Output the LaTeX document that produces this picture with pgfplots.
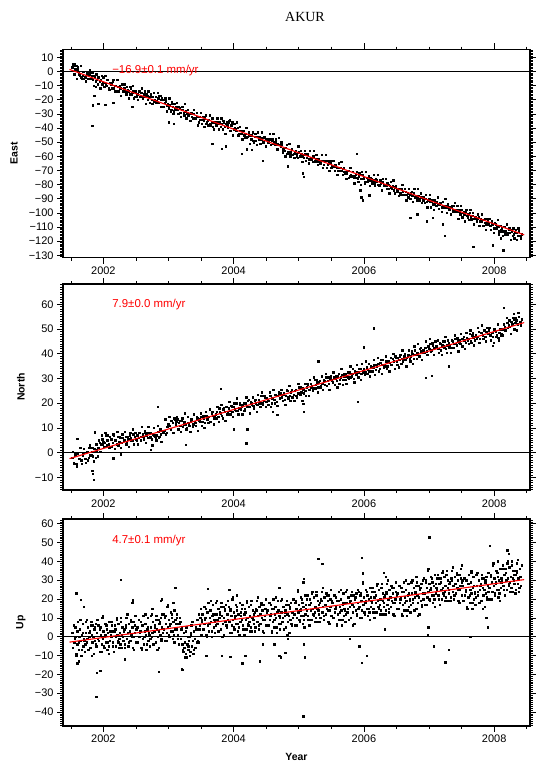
\documentclass[border=0pt]{standalone}
\usepackage{fontspec}
\setmainfont{Liberation Sans}
\newfontfamily\titlefont{Liberation Serif}
\usepackage{pgfplots}
\pgfplotsset{compat=1.18}

\pgfplotsset{
  gmt/.style={
    scale only axis, width=467bp,
    xmin=2001.38, xmax=2008.55,
    axis line style={line width=1.8bp},
    tick align=outside,
    xtick={2002,2004,2006,2008},
    xticklabels={2002,2004,2006,2008},
    minor xtick={2001.5,2002,...,2008.5},
    major tick length=6bp, minor tick length=3bp,
    every tick/.style={black, line width=0.6bp},
    tick label style={font=\fontsize{11}{11}\selectfont},
    label style={font=\bfseries\fontsize{10.5}{10.5}\selectfont},
    clip marker paths=true,
  },
  pts/.style={only marks, mark=square*, mark size=0.7pt, black},
  fit/.style={red, line width=1.1bp},
  zero/.style={black, line width=0.6pt},
}
\tikzset{rate/.style={anchor=west, text=red, font=\fontsize{11.5}{11.5}\selectfont}}

\begin{document}
\begin{tikzpicture}
\useasboundingbox (0,0) rectangle (537bp,-764bp);
\node[font=\titlefont\fontsize{14}{14}\selectfont] at (305bp,-17bp) {AKUR};

% ---------------- East ----------------
\begin{axis}[gmt, height=208bp, at={(63bp,-49.5bp)}, anchor=north west,
  ymin=-131.6, ymax=15.5,
  ytick={-130,-120,...,10},
  yticklabels={−130,−120,−110,−100,−90,−80,−70,−60,−50,−40,−30,−20,−10,0,10},
  minor ytick={-131,-130,...,15},
  ylabel={East}, ylabel style={at={(axis description cs:-0.105,0.5)}, anchor=center},
]
\addplot[zero] coordinates {(2001.38,0) (2008.55,0)};
\addplot[pts] coordinates {
(2001.52,3) (2001.54,4) (2001.56,1) (2001.58,4) (2001.60,1) (2001.62,-1) (2001.64,-3) (2001.66,-4) (2001.68,-3) (2001.70,-5)
(2001.55,5) (2001.57,2)
(2001.72,-4) (2001.74,-2) (2001.76,-5) (2001.78,-2) (2001.80,-1) (2001.82,-3) (2001.84,-6) (2001.86,-3) (2001.88,-7) (2001.90,-6)
(2001.92,-4) (2001.94,-7) (2001.96,-6) (2001.98,-9) (2002.00,-4) (2002.02,-8) (2002.04,-9) (2002.06,-6) (2002.08,-12) (2002.10,-8)
(2002.12,-9) (2002.14,-7) (2002.16,-12) (2002.18,-10) (2002.20,-14) (2002.22,-11) (2002.24,-11) (2002.26,-12) (2002.28,-9) (2002.30,-14)
(2002.32,-12) (2002.34,-14) (2002.36,-11) (2002.38,-14) (2002.40,-16) (2002.42,-12) (2002.44,-15) (2002.46,-14) (2002.48,-18) (2002.50,-14)
(2002.52,-16) (2002.54,-14) (2002.56,-18) (2002.58,-15) (2002.60,-19) (2002.62,-16) (2002.64,-18) (2002.66,-16) (2002.68,-20) (2002.70,-18)
(2002.72,-18) (2002.74,-20) (2002.76,-18) (2002.78,-21) (2002.80,-18) (2002.82,-21) (2002.84,-19) (2002.86,-17) (2002.88,-20) (2002.90,-19)
(2002.92,-20) (2002.94,-22) (2002.96,-21) (2002.98,-24) (2003.00,-26) (2003.02,-24) (2003.04,-27) (2003.06,-25) (2003.08,-28) (2003.10,-26)
(2003.12,-25) (2003.14,-27) (2003.16,-25) (2003.18,-29) (2003.20,-27) (2003.22,-27) (2003.24,-31) (2003.26,-28) (2003.28,-30) (2003.30,-31)
(2003.32,-30) (2003.34,-30) (2003.36,-32) (2003.38,-30) (2003.40,-33) (2003.42,-33) (2003.44,-32) (2003.46,-36) (2003.48,-34) (2003.50,-34)
(2003.52,-34) (2003.54,-35) (2003.56,-33) (2003.58,-37) (2003.60,-35) (2003.62,-34) (2003.64,-37) (2003.66,-36) (2003.68,-39) (2003.70,-36)
(2003.72,-37) (2003.74,-36) (2003.76,-37) (2003.78,-36) (2003.80,-39) (2003.82,-37) (2003.84,-35) (2003.86,-39) (2003.88,-37) (2003.90,-38)
(2003.92,-36) (2003.94,-34) (2003.96,-38) (2003.98,-36) (2004.00,-41) (2004.02,-40) (2004.04,-42) (2004.06,-40) (2004.08,-44) (2004.10,-42)
(2004.12,-44) (2004.14,-42) (2004.16,-45) (2004.18,-44) (2004.20,-47) (2004.22,-46) (2004.24,-45) (2004.26,-48) (2004.28,-48) (2004.30,-49)
(2004.32,-46) (2004.34,-49) (2004.36,-46) (2004.38,-48) (2004.40,-46) (2004.42,-48) (2004.44,-47) (2004.46,-50) (2004.48,-47) (2004.50,-48)
(2004.52,-48) (2004.54,-49) (2004.56,-48) (2004.58,-49) (2004.60,-51) (2004.62,-50) (2004.64,-50) (2004.66,-52) (2004.68,-51) (2004.70,-52)
(2004.72,-53) (2004.74,-52) (2004.76,-55) (2004.78,-56) (2004.80,-54) (2004.82,-58) (2004.84,-57) (2004.86,-58) (2004.88,-57) (2004.90,-59)
(2004.92,-58) (2004.94,-57) (2004.96,-58) (2004.98,-61) (2005.00,-57) (2005.02,-60) (2005.04,-58) (2005.06,-60) (2005.08,-61) (2005.10,-58)
(2005.12,-61) (2005.14,-59) (2005.16,-62) (2005.18,-61) (2005.20,-62) (2005.22,-60) (2005.24,-63) (2005.26,-62) (2005.28,-64) (2005.30,-62)
(2005.32,-63) (2005.34,-64) (2005.36,-63) (2005.38,-66) (2005.40,-64) (2005.42,-63) (2005.44,-66) (2005.46,-65) (2005.48,-65) (2005.50,-68)
(2005.52,-67) (2005.54,-67) (2005.56,-66) (2005.58,-68) (2005.60,-70) (2005.62,-68) (2005.64,-68) (2005.66,-70) (2005.68,-69) (2005.70,-71)
(2005.72,-71) (2005.74,-72) (2005.76,-70) (2005.78,-74) (2005.80,-73) (2005.82,-74) (2005.84,-75) (2005.86,-74) (2005.88,-75) (2005.90,-76)
(2005.92,-74) (2005.94,-73) (2005.96,-76) (2005.98,-73) (2006.00,-75) (2006.02,-78) (2006.04,-75) (2006.06,-77) (2006.08,-77) (2006.10,-75)
(2006.12,-77) (2006.14,-77) (2006.16,-79) (2006.18,-76) (2006.20,-78) (2006.22,-80) (2006.24,-81) (2006.26,-79) (2006.28,-78) (2006.30,-80)
(2006.32,-80) (2006.34,-81) (2006.36,-79) (2006.38,-83) (2006.40,-81) (2006.42,-82) (2006.44,-81) (2006.46,-84) (2006.48,-82) (2006.50,-84)
(2006.52,-84) (2006.54,-83) (2006.56,-86) (2006.58,-83) (2006.60,-85) (2006.62,-87) (2006.64,-85) (2006.66,-87) (2006.68,-89) (2006.70,-87)
(2006.72,-86) (2006.74,-88) (2006.76,-86) (2006.78,-89) (2006.80,-88) (2006.82,-89) (2006.84,-88) (2006.86,-90) (2006.88,-89) (2006.90,-91)
(2006.92,-91) (2006.94,-90) (2006.96,-92) (2006.98,-91) (2007.00,-90) (2007.02,-92) (2007.04,-92) (2007.06,-94) (2007.08,-94) (2007.10,-93)
(2007.12,-92) (2007.14,-94) (2007.16,-94) (2007.18,-93) (2007.20,-96) (2007.22,-95) (2007.24,-96) (2007.26,-95) (2007.28,-96) (2007.30,-98)
(2007.32,-96) (2007.34,-96) (2007.36,-98) (2007.38,-95) (2007.40,-98) (2007.42,-99) (2007.44,-98) (2007.46,-99) (2007.48,-101) (2007.50,-98)
(2007.52,-100) (2007.54,-101) (2007.56,-99) (2007.58,-102) (2007.60,-101) (2007.62,-100) (2007.64,-103) (2007.66,-102) (2007.68,-104) (2007.70,-104)
(2007.72,-103) (2007.74,-104) (2007.76,-103) (2007.78,-106) (2007.80,-106) (2007.82,-105) (2007.84,-109) (2007.86,-107) (2007.88,-108) (2007.90,-106)
(2007.92,-107) (2007.94,-109) (2007.96,-106) (2007.98,-108) (2008.00,-111) (2008.02,-108) (2008.04,-110) (2008.06,-110) (2008.08,-113) (2008.10,-112)
(2008.12,-111) (2008.14,-113) (2008.16,-110) (2008.18,-113) (2008.20,-115) (2008.22,-112) (2008.24,-114) (2008.26,-112) (2008.28,-116) (2008.30,-115)
(2008.32,-114) (2008.34,-114) (2008.36,-116) (2008.38,-113) (2008.40,-116) (2008.42,-115)
% second (odd-day) samples
(2001.53,5) (2001.55,-2) (2001.57,1) (2001.59,-5) (2001.61,3) (2001.63,-2) (2001.65,4) (2001.67,-5) (2001.69,0) (2001.71,-4)
(2001.73,-7) (2001.75,-1) (2001.77,-5) (2001.79,1) (2001.81,-5) (2001.83,-1) (2001.85,-10) (2001.87,-4) (2001.89,-2) (2001.91,-9)
(2001.93,-4) (2001.95,-12) (2001.97,-3) (2001.99,-8) (2002.01,-11) (2002.03,-3) (2002.05,-10) (2002.07,-6) (2002.09,-13) (2002.11,-8)
(2002.13,-12) (2002.15,-6) (2002.17,-14) (2002.19,-10) (2002.21,-6) (2002.23,-14) (2002.25,-10) (2002.27,-17) (2002.29,-9) (2002.31,-14)
(2002.33,-9) (2002.35,-16) (2002.37,-13) (2002.39,-19) (2002.41,-11) (2002.43,-16) (2002.45,-10) (2002.47,-19) (2002.49,-14) (2002.51,-18)
(2002.53,-20) (2002.55,-14) (2002.57,-18) (2002.59,-12) (2002.61,-18) (2002.63,-14) (2002.65,-23) (2002.67,-17) (2002.69,-14) (2002.71,-22)
(2002.73,-16) (2002.75,-23) (2002.77,-15) (2002.79,-20) (2002.81,-22) (2002.83,-15) (2002.85,-22) (2002.87,-17) (2002.89,-25) (2002.91,-20)
(2002.93,-25) (2002.95,-19) (2002.97,-28) (2002.99,-23) (2003.01,-19) (2003.03,-28) (2003.05,-23) (2003.07,-30) (2003.09,-23) (2003.11,-27)
(2003.13,-22) (2003.15,-30) (2003.17,-26) (2003.19,-32) (2003.21,-25) (2003.23,-29) (2003.25,-23) (2003.27,-33) (2003.29,-27) (2003.31,-31)
(2003.33,-35) (2003.35,-29) (2003.37,-33) (2003.39,-27) (2003.41,-33) (2003.43,-29) (2003.45,-38) (2003.47,-32) (2003.49,-29) (2003.51,-37)
(2003.53,-32) (2003.55,-39) (2003.57,-31) (2003.59,-36) (2003.61,-38) (2003.63,-31) (2003.65,-38) (2003.67,-33) (2003.69,-41) (2003.71,-36)
(2003.73,-38) (2003.75,-33) (2003.77,-41) (2003.79,-36) (2003.81,-33) (2003.83,-41) (2003.85,-36) (2003.87,-44) (2003.89,-36) (2003.91,-40)
(2003.93,-35) (2003.95,-42) (2003.97,-38) (2003.99,-45) (2004.01,-37) (2004.03,-41) (2004.05,-36) (2004.07,-45) (2004.09,-39) (2004.11,-44)
(2004.13,-48) (2004.15,-42) (2004.17,-47) (2004.19,-40) (2004.21,-46) (2004.23,-43) (2004.25,-51) (2004.27,-45) (2004.29,-43) (2004.31,-50)
(2004.33,-44) (2004.35,-52) (2004.37,-43) (2004.39,-48) (2004.41,-51) (2004.43,-43) (2004.45,-50) (2004.47,-46) (2004.49,-53) (2004.51,-48)
(2004.53,-50) (2004.55,-44) (2004.57,-52) (2004.59,-48) (2004.61,-44) (2004.63,-52) (2004.65,-48) (2004.67,-55) (2004.69,-47) (2004.71,-52)
(2004.73,-50) (2004.75,-57) (2004.77,-54) (2004.79,-60) (2004.81,-52) (2004.83,-57) (2004.85,-51) (2004.87,-60) (2004.89,-55) (2004.91,-59)
(2004.93,-61) (2004.95,-56) (2004.97,-60) (2004.99,-53) (2005.01,-60) (2005.03,-56) (2005.05,-64) (2005.07,-59) (2005.09,-56) (2005.11,-63)
(2005.13,-58) (2005.15,-65) (2005.17,-56) (2005.19,-62) (2005.21,-64) (2005.23,-56) (2005.25,-64) (2005.27,-59) (2005.29,-66) (2005.31,-62)
(2005.33,-65) (2005.35,-59) (2005.37,-68) (2005.39,-63) (2005.41,-59) (2005.43,-68) (2005.45,-63) (2005.47,-70) (2005.49,-63) (2005.51,-67)
(2005.53,-63) (2005.55,-70) (2005.57,-67) (2005.59,-73) (2005.61,-65) (2005.63,-70) (2005.65,-64) (2005.67,-73) (2005.69,-68) (2005.71,-72)
(2005.73,-76) (2005.75,-70) (2005.77,-75) (2005.79,-68) (2005.81,-74) (2005.83,-71) (2005.85,-79) (2005.87,-73) (2005.89,-71) (2005.91,-78)
(2005.93,-72) (2005.95,-80) (2005.97,-71) (2005.99,-76) (2006.01,-79) (2006.03,-71) (2006.05,-78) (2006.07,-74) (2006.09,-81) (2006.11,-76)
(2006.13,-79) (2006.15,-73) (2006.17,-81) (2006.19,-77) (2006.21,-73) (2006.23,-81) (2006.25,-77) (2006.27,-84) (2006.29,-76) (2006.31,-81)
(2006.33,-76) (2006.35,-83) (2006.37,-80) (2006.39,-86) (2006.41,-78) (2006.43,-83) (2006.45,-77) (2006.47,-86) (2006.49,-81) (2006.51,-85)
(2006.53,-88) (2006.55,-83) (2006.57,-87) (2006.59,-80) (2006.61,-87) (2006.63,-83) (2006.65,-91) (2006.67,-86) (2006.69,-83) (2006.71,-90)
(2006.73,-85) (2006.75,-92) (2006.77,-83) (2006.79,-89) (2006.81,-91) (2006.83,-83) (2006.85,-91) (2006.87,-86) (2006.89,-93) (2006.91,-89)
(2006.93,-93) (2006.95,-87) (2006.97,-96) (2006.99,-91) (2007.01,-87) (2007.03,-96) (2007.05,-91) (2007.07,-98) (2007.09,-91) (2007.11,-95)
(2007.13,-89) (2007.15,-97) (2007.17,-93) (2007.19,-99) (2007.21,-92) (2007.23,-96) (2007.25,-90) (2007.27,-100) (2007.29,-94) (2007.31,-98)
(2007.33,-101) (2007.35,-95) (2007.37,-99) (2007.39,-93) (2007.41,-99) (2007.43,-95) (2007.45,-104) (2007.47,-98) (2007.49,-95) (2007.51,-103)
(2007.53,-99) (2007.55,-106) (2007.57,-98) (2007.59,-103) (2007.61,-105) (2007.63,-98) (2007.65,-105) (2007.67,-100) (2007.69,-108) (2007.71,-103)
(2007.73,-106) (2007.75,-101) (2007.77,-109) (2007.79,-104) (2007.81,-101) (2007.83,-109) (2007.85,-104) (2007.87,-112) (2007.89,-104) (2007.91,-108)
(2007.93,-104) (2007.95,-112) (2007.97,-108) (2007.99,-114) (2008.01,-107) (2008.03,-111) (2008.05,-105) (2008.07,-115) (2008.09,-109) (2008.11,-113)
(2008.13,-116) (2008.15,-110) (2008.17,-115) (2008.19,-108) (2008.21,-114) (2008.23,-111) (2008.25,-119) (2008.27,-113) (2008.29,-111) (2008.31,-118)
(2008.33,-112) (2008.35,-119) (2008.37,-111) (2008.39,-116) (2008.41,-118)
% outliers
(2001.83,-38.5) (2001.84,-24) (2001.86,-17) (2001.88,-11) (2001.92,-23) (2002.03,-23.5) (2002.15,-22) (2002.44,-25)
(2003.00,-36) (2003.05,-21.5) (2003.08,-37) (2003.67,-51) (2003.82,-54.5) (2003.88,-53) (2004.12,-58) (2004.20,-55)
(2004.28,-55.5) (2004.45,-63) (2004.83,-67) (2005.06,-72) (2005.08,-74.5) (2005.89,-58) (2005.94,-84) (2005.96,-89)
(2005.98,-91) (2006.08,-87.5) (2006.71,-103.5) (2006.82,-101) (2006.96,-106) (2007.06,-103.5) (2007.21,-108) (2007.24,-116)
(2007.68,-124) (2007.98,-123) (2008.10,-118) (2008.14,-126.5)
};
\addplot[fit] coordinates {(2001.48,1.4) (2008.46,-115.6)};
\node[rate] at (rel axis cs:0.098,0.898) {−16.9±0.1 mm/yr};
\end{axis}

% ---------------- North ----------------
\begin{axis}[gmt, height=206bp, at={(63bp,-284bp)}, anchor=north west,
  ymin=-15.1, ymax=68.2,
  ytick={-10,0,...,60},
  yticklabels={−10,0,10,20,30,40,50,60},
  minor ytick={-15,-14,...,68},
  ylabel={North}, ylabel style={at={(axis description cs:-0.09,0.5)}, anchor=center},
]
\addplot[zero] coordinates {(2001.38,0) (2008.55,0)};
\addplot[pts] coordinates {
(2001.52,-2) (2001.54,-4) (2001.56,0) (2001.58,-4.5) (2001.60,-0.5) (2001.62,-2.5) (2001.64,2) (2001.66,-3) (2001.68,-1) (2001.70,1.5)
(2001.72,-2.5) (2001.74,0.5) (2001.76,-3) (2001.78,2) (2001.80,-1) (2001.82,0.5) (2001.84,-1.5) (2001.86,1.5) (2001.88,-2) (2001.90,1)
(2001.92,2) (2001.94,4) (2001.96,3.5) (2001.98,5.5) (2002.00,4.5) (2002.02,4) (2002.04,7) (2002.06,5) (2002.08,3.5) (2002.10,6.5)
(2002.12,5.5) (2002.14,4) (2002.16,7) (2002.18,5) (2002.20,3.5) (2002.22,6.5) (2002.24,4.5) (2002.26,6) (2002.28,4) (2002.30,6)
(2002.32,5) (2002.34,6.5) (2002.36,4.5) (2002.38,5.5) (2002.40,7) (2002.42,6) (2002.44,5) (2002.46,7.5) (2002.48,6.5) (2002.50,5.5)
(2002.52,7) (2002.54,6) (2002.56,8) (2002.58,6.5) (2002.60,7.5) (2002.62,5.5) (2002.64,8) (2002.66,7) (2002.68,6) (2002.70,8)
(2002.72,6.5) (2002.74,5.5) (2002.76,7.5) (2002.78,7) (2002.80,6) (2002.82,7) (2002.84,8.5) (2002.86,6.5) (2002.88,7.5) (2002.90,9)
(2002.92,8) (2002.94,9) (2002.96,7.5) (2002.98,10.5) (2003.00,11.5) (2003.02,11) (2003.04,13) (2003.06,12) (2003.08,14) (2003.10,13.5)
(2003.12,12.5) (2003.14,13.5) (2003.16,12) (2003.18,11) (2003.20,13) (2003.22,10.5) (2003.24,12.5) (2003.26,11.5) (2003.28,10) (2003.30,12)
(2003.32,11) (2003.34,12.5) (2003.36,13.5) (2003.38,11.5) (2003.40,12.5) (2003.42,11) (2003.44,14) (2003.46,13) (2003.48,12.5) (2003.50,14.5)
(2003.52,12.5) (2003.54,14) (2003.56,12) (2003.58,15) (2003.60,13.5) (2003.62,14.5) (2003.64,12.5) (2003.66,16) (2003.68,15) (2003.70,14)
(2003.72,15.5) (2003.74,16.5) (2003.76,14.5) (2003.78,18) (2003.80,16) (2003.82,15) (2003.84,17.5) (2003.86,16.5) (2003.88,18.5) (2003.90,15.5)
(2003.92,18) (2003.94,17) (2003.96,19) (2003.98,16.5) (2004.00,18.5) (2004.02,17.5) (2004.04,20) (2004.06,17) (2004.08,18) (2004.10,19.5)
(2004.12,18.5) (2004.14,19.5) (2004.16,17) (2004.18,20) (2004.20,19) (2004.22,21) (2004.24,18.5) (2004.26,20.5) (2004.28,19.5) (2004.30,19)
(2004.32,21) (2004.34,20) (2004.36,19.5) (2004.38,21.5) (2004.40,20.5) (2004.42,23) (2004.44,20) (2004.46,21) (2004.48,22.5) (2004.50,20.5)
(2004.52,21.5) (2004.54,21) (2004.56,23) (2004.58,20) (2004.60,22) (2004.62,21.5) (2004.64,23.5) (2004.66,20.5) (2004.68,23) (2004.70,24)
(2004.72,24) (2004.74,22.5) (2004.76,23.5) (2004.78,21.5) (2004.80,23) (2004.82,25) (2004.84,22) (2004.86,23) (2004.88,24.5) (2004.90,22.5)
(2004.92,23.5) (2004.94,25) (2004.96,23) (2004.98,24) (2005.00,26.5) (2005.02,23.5) (2005.04,24.5) (2005.06,26) (2005.08,24) (2005.10,25)
(2005.12,26.5) (2005.14,27.5) (2005.16,25.5) (2005.18,28) (2005.20,27) (2005.22,26) (2005.24,29.5) (2005.26,27.5) (2005.28,28.5) (2005.30,26.5)
(2005.32,29) (2005.34,27) (2005.36,28) (2005.38,29.5) (2005.40,27.5) (2005.42,30.5) (2005.44,29) (2005.46,28) (2005.48,30) (2005.50,29.5)
(2005.52,28.5) (2005.54,30.5) (2005.56,30) (2005.58,29) (2005.60,31) (2005.62,28) (2005.64,30.5) (2005.66,31.5) (2005.68,29.5) (2005.70,31)
(2005.72,32) (2005.74,31) (2005.76,30.5) (2005.78,32.5) (2005.80,30.5) (2005.82,32) (2005.84,30) (2005.86,33) (2005.88,31.5) (2005.90,32.5)
(2005.92,32.5) (2005.94,34) (2005.96,32) (2005.98,33) (2006.00,34) (2006.02,32.5) (2006.04,34.5) (2006.06,33.5) (2006.08,33) (2006.10,35)
(2006.12,33) (2006.14,34.5) (2006.16,35.5) (2006.18,33.5) (2006.20,35) (2006.22,36) (2006.24,34) (2006.26,37.5) (2006.28,35.5) (2006.30,34.5)
(2006.32,35.5) (2006.34,37) (2006.36,35) (2006.38,37) (2006.40,36.5) (2006.42,35.5) (2006.44,38) (2006.46,37) (2006.48,39) (2006.50,37)
(2006.52,38.5) (2006.54,37.5) (2006.56,39.5) (2006.58,38) (2006.60,37) (2006.62,39) (2006.64,37.5) (2006.66,38.5) (2006.68,39.5) (2006.70,38)
(2006.72,39) (2006.74,40) (2006.76,38) (2006.78,41.5) (2006.80,39.5) (2006.82,40.5) (2006.84,39) (2006.86,42) (2006.88,41) (2006.90,40.5)
(2006.92,41.5) (2006.94,42.5) (2006.96,41) (2006.98,43) (2007.00,42) (2007.02,44) (2007.04,41.5) (2007.06,43.5) (2007.08,42.5) (2007.10,45)
(2007.12,43) (2007.14,42) (2007.16,44.5) (2007.18,41.5) (2007.20,43.5) (2007.22,43) (2007.24,45) (2007.26,42) (2007.28,43.5) (2007.30,44.5)
(2007.32,43.5) (2007.34,42.5) (2007.36,45) (2007.38,44) (2007.40,46) (2007.42,43.5) (2007.44,45.5) (2007.46,44.5) (2007.48,44) (2007.50,46)
(2007.52,46) (2007.54,45.5) (2007.56,44.5) (2007.58,46.5) (2007.60,46) (2007.62,48) (2007.64,45) (2007.66,47.5) (2007.68,46.5) (2007.70,45.5)
(2007.72,47.5) (2007.74,47) (2007.76,49) (2007.78,46) (2007.80,48.5) (2007.82,47.5) (2007.84,49.5) (2007.86,47) (2007.88,49) (2007.90,48)
(2007.92,49.5) (2007.94,47.5) (2007.96,48.5) (2007.98,47) (2008.00,50) (2008.02,49) (2008.04,47.5) (2008.06,46.5) (2008.08,48.5) (2008.10,48)
(2008.12,48) (2008.14,50) (2008.16,51) (2008.18,49.5) (2008.20,52.5) (2008.22,51.5) (2008.24,51) (2008.26,53) (2008.28,52) (2008.30,54)
(2008.32,52.5) (2008.34,53.5) (2008.36,52) (2008.38,55) (2008.40,53) (2008.42,54)
% second (odd-day) samples
(2001.53,0.5) (2001.55,-4.5) (2001.57,-1) (2001.59,-5.5) (2001.61,0) (2001.63,-2.5) (2001.65,2) (2001.67,-4.5) (2001.69,0) (2001.71,-2.5)
(2001.73,-4) (2001.75,0.5) (2001.77,-2) (2001.79,3) (2001.81,-1) (2001.83,2) (2001.85,-3.5) (2001.87,0.5) (2001.89,3.5) (2001.91,-1.5)
(2001.93,5) (2001.95,0.5) (2001.97,7) (2001.99,3.5) (2002.01,2.5) (2002.03,8) (2002.05,3) (2002.07,7) (2002.09,2) (2002.11,5.5)
(2002.13,2.5) (2002.15,7.5) (2002.17,1.5) (2002.19,5) (2002.21,8.5) (2002.23,3) (2002.25,6.5) (2002.27,2) (2002.29,7.5) (2002.31,5)
(2002.33,8.5) (2002.35,3.5) (2002.37,6.5) (2002.39,2.5) (2002.41,8) (2002.43,5) (2002.45,9.5) (2002.47,3.5) (2002.49,8) (2002.51,5)
(2002.53,3.5) (2002.55,8) (2002.57,5) (2002.59,10.5) (2002.61,6.5) (2002.63,9) (2002.65,4) (2002.67,8) (2002.69,10.5) (2002.71,6)
(2002.73,8) (2002.75,3) (2002.77,10) (2002.79,6.5) (2002.81,5) (2002.83,11) (2002.85,6) (2002.87,9.5) (2002.89,4.5) (2002.91,8.5)
(2002.93,9) (2002.95,13.5) (2002.97,8) (2002.99,11.5) (2003.01,14.5) (2003.03,9.5) (2003.05,13) (2003.07,8) (2003.09,14) (2003.11,11.5)
(2003.13,14.5) (2003.15,9.5) (2003.17,13) (2003.19,8.5) (2003.21,14) (2003.23,11.5) (2003.25,16) (2003.27,9.5) (2003.29,14.5) (2003.31,11.5)
(2003.33,8.5) (2003.35,13.5) (2003.37,10.5) (2003.39,15.5) (2003.41,12) (2003.43,14.5) (2003.45,9) (2003.47,13.5) (2003.49,16) (2003.51,11)
(2003.53,15) (2003.55,10) (2003.57,16.5) (2003.59,13.5) (2003.61,12) (2003.63,17.5) (2003.65,12.5) (2003.67,16.5) (2003.69,11.5) (2003.71,15)
(2003.73,14) (2003.75,18.5) (2003.77,12.5) (2003.79,16.5) (2003.81,19.5) (2003.83,14) (2003.85,18) (2003.87,13) (2003.89,18.5) (2003.91,16.5)
(2003.93,20.5) (2003.95,15.5) (2003.97,18.5) (2003.99,14.5) (2004.01,20) (2004.03,17) (2004.05,22) (2004.07,15.5) (2004.09,20) (2004.11,17.5)
(2004.13,15.5) (2004.15,20) (2004.17,17.5) (2004.19,22.5) (2004.21,18.5) (2004.23,21.5) (2004.25,16) (2004.27,20) (2004.29,22.5) (2004.31,18)
(2004.33,21.5) (2004.35,16.5) (2004.37,23.5) (2004.39,20) (2004.41,18.5) (2004.43,24.5) (2004.45,19.5) (2004.47,23) (2004.49,18.5) (2004.51,22)
(2004.53,19.5) (2004.55,24.5) (2004.57,18.5) (2004.59,22) (2004.61,25.5) (2004.63,20) (2004.65,23.5) (2004.67,19) (2004.69,24.5) (2004.71,22)
(2004.73,25.5) (2004.75,21) (2004.77,24) (2004.79,19.5) (2004.81,25.5) (2004.83,22.5) (2004.85,27) (2004.87,21) (2004.89,25.5) (2004.91,22.5)
(2004.93,21) (2004.95,25.5) (2004.97,22.5) (2004.99,28) (2005.01,24) (2005.03,26.5) (2005.05,21) (2005.07,25.5) (2005.09,28) (2005.11,23)
(2005.13,28) (2005.15,23) (2005.17,29.5) (2005.19,26.5) (2005.21,25) (2005.23,30.5) (2005.25,26) (2005.27,29.5) (2005.29,24.5) (2005.31,28.5)
(2005.33,26.5) (2005.35,31) (2005.37,25.5) (2005.39,29) (2005.41,32) (2005.43,27) (2005.45,30.5) (2005.47,25.5) (2005.49,31) (2005.51,29)
(2005.53,32.5) (2005.55,27.5) (2005.57,31) (2005.59,26.5) (2005.61,32) (2005.63,29.5) (2005.65,34) (2005.67,27.5) (2005.69,32) (2005.71,29.5)
(2005.73,28) (2005.75,32.5) (2005.77,30) (2005.79,35) (2005.81,31) (2005.83,34) (2005.85,28.5) (2005.87,32.5) (2005.89,35.5) (2005.91,30.5)
(2005.93,34) (2005.95,29.5) (2005.97,36) (2005.99,32.5) (2006.01,31.5) (2006.03,37) (2006.05,32) (2006.07,36) (2006.09,31) (2006.11,34.5)
(2006.13,33) (2006.15,37.5) (2006.17,31.5) (2006.19,35.5) (2006.21,38.5) (2006.23,33) (2006.25,36.5) (2006.27,32) (2006.29,37.5) (2006.31,35)
(2006.33,39) (2006.35,34) (2006.37,37) (2006.39,33) (2006.41,38.5) (2006.43,35.5) (2006.45,40) (2006.47,34) (2006.49,38.5) (2006.51,35.5)
(2006.53,34.5) (2006.55,39) (2006.57,36) (2006.59,41.5) (2006.61,37.5) (2006.63,40) (2006.65,35) (2006.67,39) (2006.69,41.5) (2006.71,37)
(2006.73,41) (2006.75,36) (2006.77,43) (2006.79,39.5) (2006.81,38) (2006.83,44) (2006.85,39) (2006.87,42.5) (2006.89,37.5) (2006.91,41.5)
(2006.93,40.5) (2006.95,45) (2006.97,39.5) (2006.99,43) (2007.01,46) (2007.03,41) (2007.05,44.5) (2007.07,39.5) (2007.09,45) (2007.11,43)
(2007.13,45.5) (2007.15,40.5) (2007.17,44) (2007.19,39.5) (2007.21,45) (2007.23,42.5) (2007.25,47) (2007.27,40.5) (2007.29,45.5) (2007.31,42.5)
(2007.33,40.5) (2007.35,45.5) (2007.37,42.5) (2007.39,47.5) (2007.41,44) (2007.43,46.5) (2007.45,41) (2007.47,45.5) (2007.49,48) (2007.51,43)
(2007.53,47) (2007.55,42) (2007.57,48.5) (2007.59,45.5) (2007.61,44) (2007.63,49.5) (2007.65,44.5) (2007.67,48.5) (2007.69,43.5) (2007.71,47)
(2007.73,46) (2007.75,50.5) (2007.77,44.5) (2007.79,48.5) (2007.81,51.5) (2007.83,46) (2007.85,49.5) (2007.87,45) (2007.89,50.5) (2007.91,48)
(2007.93,50.5) (2007.95,45.5) (2007.97,48.5) (2007.99,44.5) (2008.01,50) (2008.03,47) (2008.05,52) (2008.07,45.5) (2008.09,50) (2008.11,47.5)
(2008.13,47.5) (2008.15,52) (2008.17,49.5) (2008.19,54.5) (2008.21,50.5) (2008.23,53.5) (2008.25,48) (2008.27,52) (2008.29,54.5) (2008.31,50)
(2008.33,54.5) (2008.35,49.5) (2008.37,56.5) (2008.39,53) (2008.41,51.5)
% outliers
(2001.60,5.7) (2001.83,-7.2) (2001.85,-10.9) (2001.84,-8.5) (2001.87,8.3) (2002.15,-2.3) (2002.27,-0.6) (2002.73,1.2)
(2002.83,18.7) (2003.26,3.2) (2003.80,25.9) (2004.00,9.5) (2004.19,3.9) (2004.21,9.5) (2004.67,15.4) (2004.60,16.5)
(2005.08,16.5) (2005.07,19.8) (2005.30,37) (2005.90,20.5) (2006.00,42.7) (2006.15,50.4) (2006.95,30.3) (2007.04,31.2)
(2007.30,35) (2007.98,43.2) (2008.15,58.5) (2008.30,56.3)
};
\addplot[fit] coordinates {(2001.48,-2.4) (2008.46,52.6)};
\node[rate] at (rel axis cs:0.098,0.898) {7.9±0.0 mm/yr};
\end{axis}

% ---------------- Up ----------------
\begin{axis}[gmt, height=206.7bp, at={(63bp,-519bp)}, anchor=north west,
  ymin=-47.3, ymax=62.5,
  ytick={-40,-30,...,60},
  yticklabels={−40,−30,−20,−10,0,10,20,30,40,50,60},
  minor ytick={-47,-46,...,62},
  ylabel={Up}, ylabel style={at={(axis description cs:-0.09,0.5)}, anchor=center},
  xlabel={Year}, xlabel style={at={(axis description cs:0.5,0)}, anchor=center, yshift=-31bp},
]
\addplot[zero] coordinates {(2001.38,0) (2008.55,0)};
\addplot[pts] coordinates {
(2001.52,2) (2001.53,-6) (2001.54,6) (2001.55,-3) (2001.56,-1) (2001.57,5) (2001.58,-9) (2001.59,3) (2001.60,-4) (2001.61,8) (2001.62,-7) (2001.63,0) (2001.64,4) (2001.65,-2) (2001.66,-10) (2001.67,1) (2001.68,7) (2001.69,-5) (2001.70,-1) (2001.71,-8)
(2001.72,-4) (2001.73,2) (2001.74,9) (2001.75,-1) (2001.76,5) (2001.77,-7) (2001.78,0) (2001.79,3) (2001.80,-6) (2001.81,8) (2001.82,1) (2001.83,-3) (2001.84,6) (2001.85,-9) (2001.86,4) (2001.87,-2) (2001.88,7) (2001.89,-5) (2001.90,2) (2001.91,-1)
(2001.92,6) (2001.93,-2) (2001.94,-8) (2001.95,5) (2001.96,1) (2001.97,-4) (2001.98,10) (2001.99,-1) (2002.00,3) (2002.01,-6) (2002.02,0) (2002.03,7) (2002.04,-3) (2002.05,4) (2002.06,-7) (2002.07,2) (2002.08,-5) (2002.09,8) (2002.10,-2) (2002.11,1)
(2002.12,0) (2002.13,8) (2002.14,-3) (2002.15,3) (2002.16,-8) (2002.17,6) (2002.18,4) (2002.19,-5) (2002.20,9) (2002.21,1) (2002.22,-2) (2002.23,7) (2002.24,-1) (2002.25,2) (2002.26,-4) (2002.27,10) (2002.28,-6) (2002.29,5) (2002.30,0) (2002.31,3)
(2002.32,4) (2002.33,-4) (2002.34,6) (2002.35,10) (2002.36,-1) (2002.37,2) (2002.38,-5) (2002.39,7) (2002.40,3) (2002.41,-2) (2002.42,9) (2002.43,1) (2002.44,5) (2002.45,-6) (2002.46,8) (2002.47,0) (2002.48,2) (2002.49,11) (2002.50,-3) (2002.51,5)
(2002.52,5) (2002.53,-3) (2002.54,9) (2002.55,0) (2002.56,2) (2002.57,8) (2002.58,-6) (2002.59,6) (2002.60,-1) (2002.61,11) (2002.62,-4) (2002.63,3) (2002.64,7) (2002.65,1) (2002.66,-7) (2002.67,4) (2002.68,10) (2002.69,-2) (2002.70,2) (2002.71,-5)
(2002.72,-1) (2002.73,5) (2002.74,12) (2002.75,2) (2002.76,8) (2002.77,-4) (2002.78,3) (2002.79,6) (2002.80,-3) (2002.81,11) (2002.82,4) (2002.83,0) (2002.84,9) (2002.85,-6) (2002.86,7) (2002.87,1) (2002.88,10) (2002.89,-2) (2002.90,5) (2002.91,2)
(2002.92,12) (2002.93,4) (2002.94,-2) (2002.95,11) (2002.96,7) (2002.97,2) (2002.98,16) (2002.99,5) (2003.00,9) (2003.01,0) (2003.02,6) (2003.03,13) (2003.04,3) (2003.05,10) (2003.06,-1) (2003.07,8) (2003.08,1) (2003.09,14) (2003.10,4) (2003.11,7)
(2003.12,4) (2003.13,12) (2003.14,1) (2003.15,7) (2003.16,-4) (2003.17,10) (2003.18,8) (2003.19,-1) (2003.20,4) (2003.21,-4) (2003.22,-7) (2003.23,2) (2003.24,-6) (2003.25,-3) (2003.26,-9) (2003.27,5) (2003.28,-11) (2003.29,0) (2003.30,-5) (2003.31,-2)
(2003.32,0) (2003.33,-8) (2003.34,2) (2003.35,6) (2003.36,-5) (2003.37,-2) (2003.38,-9) (2003.39,3) (2003.40,-1) (2003.41,-6) (2003.42,5) (2003.43,-3) (2003.44,9) (2003.45,-2) (2003.46,12) (2003.47,4) (2003.48,6) (2003.49,15) (2003.50,1) (2003.51,9)
(2003.52,12) (2003.53,4) (2003.54,16) (2003.55,7) (2003.56,9) (2003.57,15) (2003.58,1) (2003.59,13) (2003.60,6) (2003.61,18) (2003.62,3) (2003.63,10) (2003.64,14) (2003.65,8) (2003.66,0) (2003.67,11) (2003.68,17) (2003.69,5) (2003.70,9) (2003.71,2)
(2003.72,6) (2003.73,12) (2003.74,19) (2003.75,9) (2003.76,15) (2003.77,3) (2003.78,10) (2003.79,13) (2003.80,4) (2003.81,18) (2003.82,11) (2003.83,7) (2003.84,16) (2003.85,1) (2003.86,14) (2003.87,8) (2003.88,17) (2003.89,5) (2003.90,12) (2003.91,9)
(2003.92,16) (2003.93,8) (2003.94,2) (2003.95,15) (2003.96,11) (2003.97,6) (2003.98,20) (2003.99,9) (2004.00,13) (2004.01,4) (2004.02,10) (2004.03,17) (2004.04,7) (2004.05,14) (2004.06,3) (2004.07,12) (2004.08,5) (2004.09,18) (2004.10,8) (2004.11,11)
(2004.12,9) (2004.13,17) (2004.14,6) (2004.15,12) (2004.16,1) (2004.17,15) (2004.18,13) (2004.19,4) (2004.20,18) (2004.21,10) (2004.22,7) (2004.23,16) (2004.24,8) (2004.25,11) (2004.26,5) (2004.27,19) (2004.28,3) (2004.29,14) (2004.30,9) (2004.31,12)
(2004.32,13) (2004.33,5) (2004.34,15) (2004.35,19) (2004.36,8) (2004.37,11) (2004.38,4) (2004.39,16) (2004.40,12) (2004.41,7) (2004.42,18) (2004.43,10) (2004.44,14) (2004.45,3) (2004.46,17) (2004.47,9) (2004.48,11) (2004.49,20) (2004.50,6) (2004.51,14)
(2004.52,14) (2004.53,6) (2004.54,18) (2004.55,9) (2004.56,11) (2004.57,17) (2004.58,3) (2004.59,15) (2004.60,8) (2004.61,20) (2004.62,5) (2004.63,12) (2004.64,16) (2004.65,10) (2004.66,2) (2004.67,13) (2004.68,19) (2004.69,7) (2004.70,11) (2004.71,4)
(2004.72,7) (2004.73,13) (2004.74,20) (2004.75,10) (2004.76,16) (2004.77,4) (2004.78,11) (2004.79,14) (2004.80,5) (2004.81,19) (2004.82,12) (2004.83,8) (2004.84,17) (2004.85,2) (2004.86,15) (2004.87,9) (2004.88,18) (2004.89,6) (2004.90,13) (2004.91,10)
(2004.92,20) (2004.93,12) (2004.94,6) (2004.95,19) (2004.96,15) (2004.97,10) (2004.98,24) (2004.99,13) (2005.00,17) (2005.01,8) (2005.02,14) (2005.03,21) (2005.04,11) (2005.05,18) (2005.06,7) (2005.07,16) (2005.08,9) (2005.09,22) (2005.10,12) (2005.11,15)
(2005.12,14) (2005.13,22) (2005.14,11) (2005.15,17) (2005.16,6) (2005.17,20) (2005.18,18) (2005.19,9) (2005.20,23) (2005.21,15) (2005.22,12) (2005.23,21) (2005.24,13) (2005.25,16) (2005.26,10) (2005.27,24) (2005.28,8) (2005.29,19) (2005.30,14) (2005.31,17)
(2005.32,18) (2005.33,10) (2005.34,20) (2005.35,24) (2005.36,13) (2005.37,16) (2005.38,9) (2005.39,21) (2005.40,17) (2005.41,12) (2005.42,23) (2005.43,15) (2005.44,19) (2005.45,8) (2005.46,22) (2005.47,14) (2005.48,16) (2005.49,25) (2005.50,11) (2005.51,19)
(2005.52,18) (2005.53,10) (2005.54,22) (2005.55,13) (2005.56,15) (2005.57,21) (2005.58,7) (2005.59,19) (2005.60,12) (2005.61,24) (2005.62,9) (2005.63,16) (2005.64,20) (2005.65,14) (2005.66,6) (2005.67,17) (2005.68,23) (2005.69,11) (2005.70,15) (2005.71,8)
(2005.72,12) (2005.73,18) (2005.74,25) (2005.75,15) (2005.76,21) (2005.77,9) (2005.78,16) (2005.79,19) (2005.80,10) (2005.81,24) (2005.82,17) (2005.83,13) (2005.84,22) (2005.85,7) (2005.86,20) (2005.87,14) (2005.88,23) (2005.89,11) (2005.90,18) (2005.91,15)
(2005.92,24) (2005.93,16) (2005.94,10) (2005.95,23) (2005.96,19) (2005.97,14) (2005.98,28) (2005.99,17) (2006.00,21) (2006.01,12) (2006.02,18) (2006.03,25) (2006.04,15) (2006.05,22) (2006.06,11) (2006.07,20) (2006.08,13) (2006.09,26) (2006.10,16) (2006.11,19)
(2006.12,18) (2006.13,26) (2006.14,15) (2006.15,21) (2006.16,10) (2006.17,24) (2006.18,22) (2006.19,13) (2006.20,27) (2006.21,19) (2006.22,16) (2006.23,25) (2006.24,17) (2006.25,20) (2006.26,14) (2006.27,28) (2006.28,12) (2006.29,23) (2006.30,18) (2006.31,21)
(2006.32,22) (2006.33,14) (2006.34,24) (2006.35,28) (2006.36,17) (2006.37,20) (2006.38,13) (2006.39,25) (2006.40,21) (2006.41,16) (2006.42,27) (2006.43,19) (2006.44,23) (2006.45,12) (2006.46,26) (2006.47,18) (2006.48,20) (2006.49,29) (2006.50,15) (2006.51,23)
(2006.52,23) (2006.53,15) (2006.54,27) (2006.55,18) (2006.56,20) (2006.57,26) (2006.58,12) (2006.59,24) (2006.60,17) (2006.61,29) (2006.62,14) (2006.63,21) (2006.64,25) (2006.65,19) (2006.66,11) (2006.67,22) (2006.68,28) (2006.69,16) (2006.70,20) (2006.71,13)
(2006.72,17) (2006.73,23) (2006.74,30) (2006.75,20) (2006.76,26) (2006.77,14) (2006.78,21) (2006.79,24) (2006.80,15) (2006.81,29) (2006.82,22) (2006.83,18) (2006.84,27) (2006.85,12) (2006.86,25) (2006.87,19) (2006.88,28) (2006.89,16) (2006.90,23) (2006.91,20)
(2006.92,31) (2006.93,23) (2006.94,17) (2006.95,30) (2006.96,26) (2006.97,21) (2006.98,35) (2006.99,24) (2007.00,28) (2007.01,19) (2007.02,25) (2007.03,32) (2007.04,22) (2007.05,29) (2007.06,18) (2007.07,27) (2007.08,20) (2007.09,33) (2007.10,23) (2007.11,26)
(2007.12,25) (2007.13,33) (2007.14,22) (2007.15,28) (2007.16,17) (2007.17,31) (2007.18,29) (2007.19,20) (2007.20,34) (2007.21,26) (2007.22,23) (2007.23,32) (2007.24,24) (2007.25,27) (2007.26,21) (2007.27,35) (2007.28,19) (2007.29,30) (2007.30,25) (2007.31,28)
(2007.32,29) (2007.33,21) (2007.34,31) (2007.35,35) (2007.36,24) (2007.37,27) (2007.38,20) (2007.39,32) (2007.40,28) (2007.41,23) (2007.42,34) (2007.43,26) (2007.44,30) (2007.45,19) (2007.46,33) (2007.47,25) (2007.48,27) (2007.49,36) (2007.50,22) (2007.51,30)
(2007.52,27) (2007.53,19) (2007.54,31) (2007.55,22) (2007.56,24) (2007.57,30) (2007.58,16) (2007.59,28) (2007.60,21) (2007.61,33) (2007.62,18) (2007.63,25) (2007.64,29) (2007.65,23) (2007.66,15) (2007.67,26) (2007.68,32) (2007.69,20) (2007.70,24) (2007.71,17)
(2007.72,21) (2007.73,27) (2007.74,34) (2007.75,24) (2007.76,30) (2007.77,18) (2007.78,25) (2007.79,28) (2007.80,19) (2007.81,33) (2007.82,26) (2007.83,22) (2007.84,31) (2007.85,16) (2007.86,29) (2007.87,23) (2007.88,32) (2007.89,20) (2007.90,27) (2007.91,24)
(2007.92,34) (2007.93,26) (2007.94,20) (2007.95,33) (2007.96,29) (2007.97,24) (2007.98,38) (2007.99,27) (2008.00,31) (2008.01,22) (2008.02,28) (2008.03,35) (2008.04,25) (2008.05,32) (2008.06,21) (2008.07,30) (2008.08,23) (2008.09,36) (2008.10,26) (2008.11,29)
(2008.12,30) (2008.13,38) (2008.14,27) (2008.15,33) (2008.16,22) (2008.17,36) (2008.18,34) (2008.19,25) (2008.20,39) (2008.21,31) (2008.22,28) (2008.23,37) (2008.24,29) (2008.25,32) (2008.26,26) (2008.27,40) (2008.28,24) (2008.29,35) (2008.30,30) (2008.31,33)
(2008.32,33) (2008.33,25) (2008.34,35) (2008.35,39) (2008.36,28) (2008.37,31) (2008.38,24) (2008.39,36) (2008.40,32) (2008.41,27) (2008.42,38)
% extra half-day samples
(2001.525,-6) (2001.545,6) (2001.565,0) (2001.585,-10) (2001.605,3) (2001.625,-3) (2001.645,9) (2001.665,-7) (2001.685,2) (2001.705,-2)
(2001.725,8) (2001.745,-3) (2001.765,-7) (2001.785,2) (2001.805,6) (2001.825,-10) (2001.845,0) (2001.865,5) (2001.885,-4) (2001.905,9)
(2001.925,-2) (2001.945,4) (2001.965,-8) (2001.985,11) (2002.005,-5) (2002.025,1) (2002.045,6) (2002.065,-3) (2002.085,-9) (2002.105,3)
(2002.125,6) (2002.145,-5) (2002.165,3) (2002.185,0) (2002.205,10) (2002.225,-3) (2002.245,-6) (2002.265,8) (2002.285,1) (2002.305,-2)
(2002.325,-6) (2002.345,5) (2002.365,12) (2002.385,-3) (2002.405,3) (2002.425,8) (2002.445,0) (2002.465,-7) (2002.485,6) (2002.505,4)
(2002.525,-3) (2002.545,9) (2002.565,3) (2002.585,-7) (2002.605,6) (2002.625,0) (2002.645,12) (2002.665,-4) (2002.685,5) (2002.705,1)
(2002.725,11) (2002.745,0) (2002.765,-4) (2002.785,5) (2002.805,9) (2002.825,-7) (2002.845,3) (2002.865,8) (2002.885,-1) (2002.905,12)
(2002.925,4) (2002.945,10) (2002.965,-2) (2002.985,17) (2003.005,1) (2003.025,7) (2003.045,12) (2003.065,3) (2003.085,-3) (2003.105,9)
(2003.125,10) (2003.145,-1) (2003.165,7) (2003.185,4) (2003.205,5) (2003.225,-8) (2003.245,-11) (2003.265,3) (2003.285,-4) (2003.305,-7)
(2003.325,-10) (2003.345,1) (2003.365,8) (2003.385,-7) (2003.405,-1) (2003.425,4) (2003.445,4) (2003.465,-3) (2003.485,10) (2003.505,8)
(2003.525,4) (2003.545,16) (2003.565,10) (2003.585,0) (2003.605,13) (2003.625,7) (2003.645,19) (2003.665,3) (2003.685,12) (2003.705,8)
(2003.725,18) (2003.745,7) (2003.765,3) (2003.785,12) (2003.805,16) (2003.825,0) (2003.845,10) (2003.865,15) (2003.885,6) (2003.905,19)
(2003.925,8) (2003.945,14) (2003.965,2) (2003.985,21) (2004.005,5) (2004.025,11) (2004.045,16) (2004.065,7) (2004.085,1) (2004.105,13)
(2004.125,15) (2004.145,4) (2004.165,12) (2004.185,9) (2004.205,19) (2004.225,6) (2004.245,3) (2004.265,17) (2004.285,10) (2004.305,7)
(2004.325,3) (2004.345,14) (2004.365,21) (2004.385,6) (2004.405,12) (2004.425,17) (2004.445,9) (2004.465,2) (2004.485,15) (2004.505,13)
(2004.525,6) (2004.545,18) (2004.565,12) (2004.585,2) (2004.605,15) (2004.625,9) (2004.645,21) (2004.665,5) (2004.685,14) (2004.705,10)
(2004.725,19) (2004.745,8) (2004.765,4) (2004.785,13) (2004.805,17) (2004.825,1) (2004.845,11) (2004.865,16) (2004.885,7) (2004.905,20)
(2004.925,12) (2004.945,18) (2004.965,6) (2004.985,25) (2005.005,9) (2005.025,15) (2005.045,20) (2005.065,11) (2005.085,5) (2005.105,17)
(2005.125,20) (2005.145,9) (2005.165,17) (2005.185,14) (2005.205,24) (2005.225,11) (2005.245,8) (2005.265,22) (2005.285,15) (2005.305,12)
(2005.325,8) (2005.345,19) (2005.365,26) (2005.385,11) (2005.405,17) (2005.425,22) (2005.445,14) (2005.465,7) (2005.485,20) (2005.505,18)
(2005.525,10) (2005.545,22) (2005.565,16) (2005.585,6) (2005.605,19) (2005.625,13) (2005.645,25) (2005.665,9) (2005.685,18) (2005.705,14)
(2005.725,24) (2005.745,13) (2005.765,9) (2005.785,18) (2005.805,22) (2005.825,6) (2005.845,16) (2005.865,21) (2005.885,12) (2005.905,25)
(2005.925,16) (2005.945,22) (2005.965,10) (2005.985,29) (2006.005,13) (2006.025,19) (2006.045,24) (2006.065,15) (2006.085,9) (2006.105,21)
(2006.125,24) (2006.145,13) (2006.165,21) (2006.185,18) (2006.205,28) (2006.225,15) (2006.245,12) (2006.265,26) (2006.285,19) (2006.305,16)
(2006.325,12) (2006.345,23) (2006.365,30) (2006.385,15) (2006.405,21) (2006.425,26) (2006.445,18) (2006.465,11) (2006.485,24) (2006.505,22)
(2006.525,15) (2006.545,27) (2006.565,21) (2006.585,11) (2006.605,24) (2006.625,18) (2006.645,30) (2006.665,14) (2006.685,23) (2006.705,19)
(2006.725,29) (2006.745,18) (2006.765,14) (2006.785,23) (2006.805,27) (2006.825,11) (2006.845,21) (2006.865,26) (2006.885,17) (2006.905,30)
(2006.925,23) (2006.945,29) (2006.965,17) (2006.985,36) (2007.005,20) (2007.025,26) (2007.045,31) (2007.065,22) (2007.085,16) (2007.105,28)
(2007.125,31) (2007.145,20) (2007.165,28) (2007.185,25) (2007.205,35) (2007.225,22) (2007.245,19) (2007.265,33) (2007.285,26) (2007.305,23)
(2007.325,19) (2007.345,30) (2007.365,37) (2007.385,22) (2007.405,28) (2007.425,33) (2007.445,25) (2007.465,18) (2007.485,31) (2007.505,29)
(2007.525,19) (2007.545,31) (2007.565,25) (2007.585,15) (2007.605,28) (2007.625,22) (2007.645,34) (2007.665,18) (2007.685,27) (2007.705,23)
(2007.725,33) (2007.745,22) (2007.765,18) (2007.785,27) (2007.805,31) (2007.825,15) (2007.845,25) (2007.865,30) (2007.885,21) (2007.905,34)
(2007.925,26) (2007.945,32) (2007.965,20) (2007.985,39) (2008.005,23) (2008.025,29) (2008.045,34) (2008.065,25) (2008.085,19) (2008.105,31)
(2008.125,36) (2008.145,25) (2008.165,33) (2008.185,30) (2008.205,40) (2008.225,27) (2008.245,24) (2008.265,38) (2008.285,31) (2008.305,28)
(2008.325,23) (2008.345,34) (2008.365,41) (2008.385,26) (2008.405,32)
% outliers
(2001.58,23) (2001.62,-13) (2001.60,-14) (2001.65,19.6) (2001.70,16) (2001.90,-19) (2001.95,-18) (2001.89,-32)
(2002.27,30.4) (2002.33,-12) (2002.45,19.3) (2002.44,18) (2002.75,15) (2002.90,20) (2002.88,19) (2002.85,-18.5)
(2003.10,26) (2003.07,18) (2003.20,-17) (2003.21,-17.5) (2003.60,25.5) (2003.58,-10) (2003.82,-10) (2003.93,25)
(2003.95,-10.5) (2004.05,22) (2004.13,-14) (2004.18,-10) (2004.40,-13) (2004.45,-4) (2004.70,26) (2004.62,-4)
(2004.70,-10) (2004.72,-11) (2004.79,-8.5) (2004.83,-1) (2005.08,30.8) (2005.07,29) (2005.07,-42.3) (2005.08,-4)
(2005.09,-11) (2005.30,41.4) (2005.36,38.7) (2005.78,-1) (2005.93,-5) (2005.97,41.9) (2005.98,33.8) (2005.97,-13.8)
(2006.04,-10) (2006.30,34) (2006.33,32) (2006.32,4) (2006.80,32) (2007.00,52.9) (2006.98,1) (2007.07,-5) (2006.99,5)
(2007.30,-7) (2007.25,-13.5) (2007.50,38) (2007.63,0) (2007.65,35) (2007.90,5) (2007.88,10) (2007.93,48.2) (2008.05,40)
(2008.20,46) (2008.22,44)
};
\addplot[fit] coordinates {(2001.48,-2.9) (2008.46,30.3)};
\node[rate] at (rel axis cs:0.098,0.898) {4.7±0.1 mm/yr};
\end{axis}
\end{tikzpicture}
\end{document}
